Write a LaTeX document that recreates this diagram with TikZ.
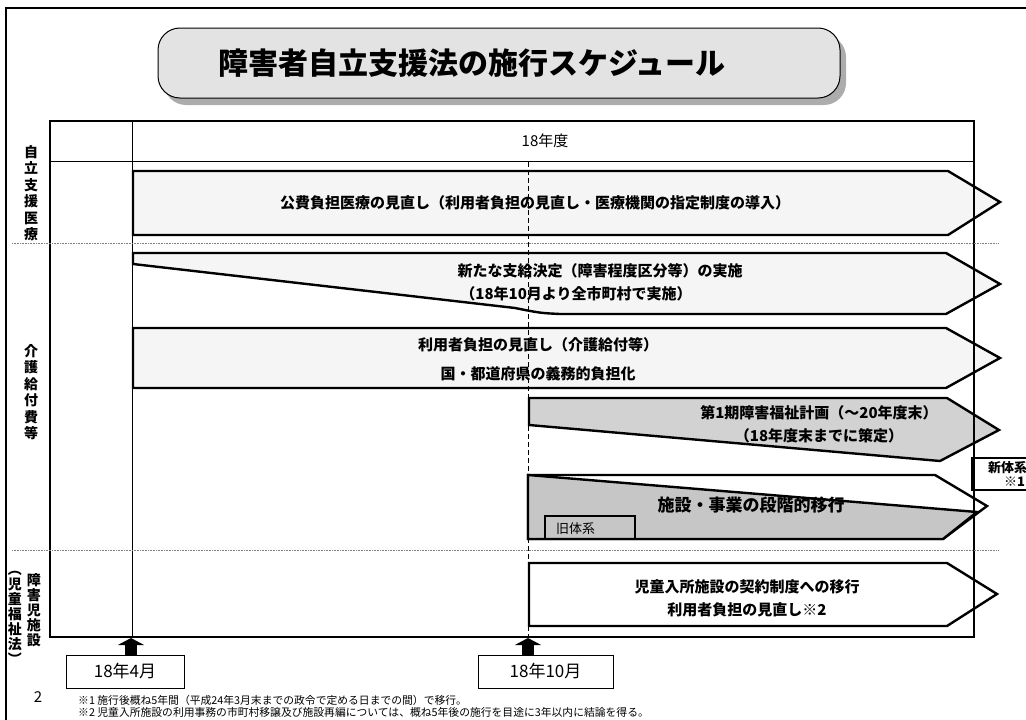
\documentclass[tikz,border=0pt]{standalone}
\usepackage{fontspec}
\setmainfont{Noto Sans CJK JP}
\usetikzlibrary{arrows.meta}
\begin{document}
\begin{tikzpicture}[x=1pt,y=-1pt,
  thick line/.style={line width=2.4pt, line join=miter},
  rowtext/.style={font=\fontsize{15}{22}\selectfont\bfseries, inner sep=0pt, align=center},
  vlabel/.style={font=\fontsize{14}{16.5}\selectfont\bfseries, inner sep=0pt, align=center},
  datebox/.style={draw, line width=0.8pt, minimum width=118pt, minimum height=33pt, inner sep=0pt, font=\fontsize{17}{20}\selectfont},
  upmark/.style={line width=12pt, -{Triangle[width=26pt,length=7pt]}},
  note/.style={font=\fontsize{10.8}{12}\selectfont, inner sep=0pt, anchor=west},
  sep/.style={densely dotted, line width=0.6pt, gray}
]
\useasboundingbox (0,0) rectangle (1026,720);
\clip (0,0) rectangle (1026,720);
% outer frame
\draw[line width=1.8pt] (6,722) -- (6,8) -- (1030,8);
% title
\fill[gray!65, rounded corners=22pt] (164,35) rectangle (846,105);
\draw[line width=1pt, fill=gray!22, rounded corners=22pt] (158,28) rectangle (840,98);
\node[font=\fontsize{30}{34}\selectfont\bfseries, inner sep=0pt] (title) at (472,63) {障害者自立支援法の施行スケジュール};
% row arrows
\draw[thick line, fill=gray!8] (133,171) -- (948,171) -- (1000,202) -- (948,235) -- (133,235) -- cycle;
\draw[thick line, fill=gray!8] (133,264) -- (133,253) -- (946,253) -- (1000,284) -- (946,314) -- (560,314) .. controls (540,313) .. (515,308) -- cycle;
\draw[thick line, fill=gray!8] (133,328) -- (946,328) -- (1000,358) -- (946,388) -- (133,388) -- cycle;
\draw[thick line, fill=gray!35] (529,398) -- (947,398) -- (999,430) -- (940,461) -- (529,425) -- cycle;
\draw[thick line, fill=white] (528,475) -- (935,475) -- (987,506) -- (943,539) -- (528,539) -- cycle;
\draw[thick line, fill=gray!45] (528,475) -- (977,512) -- (943,539) -- (528,539) -- cycle;
\draw[line width=2pt] (545,539) -- (545,516) -- (635,516) -- (635,539);
\draw[thick line, fill=white] (529,563) -- (947,563) -- (997,594) -- (947,626) -- (529,626) -- cycle;
% new system box
\draw[line width=1.6pt] (1040,458) -- (972,458) -- (972,490) -- (1040,490);
% table
\draw[line width=0.8pt] (50,161) -- (974,161);
\draw[line width=1pt] (132,121) -- (132,637);
\draw[line width=2.6pt] (50,121) rectangle (974,637);
\draw[sep] (12,243) -- (998,243);
\draw[sep] (12,550) -- (998,550);
\draw[dashed, line width=1pt, dash pattern=on 5pt off 3pt] (528,162) -- (528,637);
% texts
\node[font=\fontsize{15}{18}\selectfont, inner sep=0pt] (hdr) at (545,141) {18年度};
\node[rowtext] (r1) at (535,203) {公費負担医療の見直し（利用者負担の見直し・医療機関の指定制度の導入）};
\node[rowtext] (r2a) at (600,271) {新たな支給決定（障害程度区分等）の実施};
\node[rowtext] (r2b) at (576,294) {（18年10月より全市町村で実施）};
\node[rowtext] (r3a) at (538,345) {利用者負担の見直し（介護給付等）};
\node[rowtext] (r3b) at (538,374) {国・都道府県の義務的負担化};
\node[rowtext] (r4a) at (819,413) {第1期障害福祉計画（～20年度末）};
\node[rowtext] (r4b) at (819,436) {（18年度末までに策定）};
\node[font=\fontsize{17}{20}\selectfont\bfseries, inner sep=0pt] (r5) at (751,505) {施設・事業の段階的移行};
\node[font=\fontsize{13}{15}\selectfont, inner sep=0pt, anchor=west] (old) at (556,529) {旧体系};
\node[rowtext] (r6a) at (747,587) {児童入所施設の契約制度への移行};
\node[rowtext] (r6b) at (747,610) {利用者負担の見直し※2};
\node[font=\fontsize{13}{15}\selectfont\bfseries, inner sep=0pt, anchor=west] (new1) at (988,468) {新体系};
\node[font=\fontsize{13}{15}\selectfont\bfseries, inner sep=0pt, anchor=west] (new2) at (1004,482) {※1};
% left labels
\node[vlabel] (lab1) at (31,193) {自\\立\\支\\援\\医\\療};
\node[vlabel] (lab2) at (31,392) {介\\護\\給\\付\\費\\等};
\node[vlabel, font=\fontsize{14}{15}\selectfont\bfseries] (lab3) at (34,610) {障\\害\\児\\施\\設};
\node[vlabel, font=\fontsize{14}{15}\selectfont\bfseries] (lab4) at (15,618) {︵\\児\\童\\福\\祉\\法\\︶};
% date boxes and marks
\node[datebox] (b4) at (125,671.5) {18年4月};
\node[datebox, minimum width=135pt] (b10) at (545.5,671.5) {18年10月};
\coordinate (t4) at (131,638);
\coordinate (t10) at (528,638);
\draw[upmark] (b4.north -| t4) -- (t4);
\draw[upmark] (b10.north -| t10) -- (t10);
% footnotes
\node[font=\fontsize{15}{18}\selectfont, inner sep=0pt] (pg) at (38,697) {2};
\node[note] (n1) at (78,700) {※1 施行後概ね5年間（平成24年3月末までの政令で定める日までの間）で移行。};
\node[note] (n2) at (78,712) {※2 児童入所施設の利用事務の市町村移譲及び施設再編については、概ね5年後の施行を目途に3年以内に結論を得る。};
\end{tikzpicture}
\end{document}
